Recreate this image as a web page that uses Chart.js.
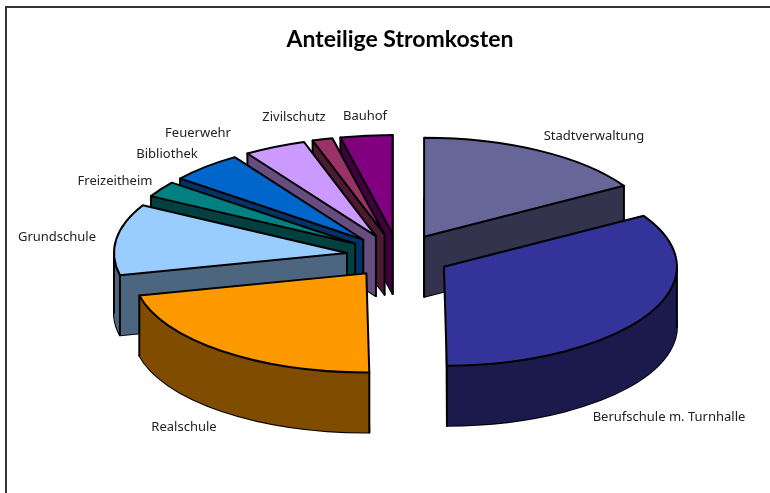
<!DOCTYPE html>
<html>
<head>
<meta charset="utf-8">
<style>html,body{margin:0;padding:0;background:#fff}#w{width:770px;height:493px;position:relative}</style>
<script src="https://cdn.jsdelivr.net/npm/chart.js@4"></script>
</head>
<body>
<div id="w"><canvas id="c" width="770" height="493"></canvas></div>
<script>
const chartTitle = 'Anteilige Stromkosten';
const categories = ['Stadtverwaltung','Berufschule m. Turnhalle','Realschule','Grundschule','Freizeitheim','Bibliothek','Feuerwehr','Zivilschutz','Bauhof'];
const shares = [16.4,33.4,21.6,11.6,2.6,5.1,4.3,1.4,3.6];
const topColors = ['#666699','#333399','#FF9900','#99CCFF','#008080','#0066CC','#CC99FF','#993366','#800080'];
const wallColors = ['#33334D','#1A1A4D','#804D00','#4D6680','#004040','#003366','#664D80','#4D1A33','#400040'];
const labelAnchors = [[594,136],[669,417],[184,427],[57,237],[115,181],[167,154],[198,133],[294,117],[365,116]];

const pieCenter = {x:398.5, y:256}, pieRadius = 233, tilt = 0.425, depth = 60, explode = 52;

const pie3d = {
  id:'pie3d',
  beforeDraw(chart){
    const c = chart.ctx;
    c.save();
    c.strokeStyle = '#333'; c.lineWidth = 2;
    c.beginPath(); c.moveTo(6,493); c.lineTo(6,7); c.lineTo(770,7); c.stroke();
    c.restore();
  },
  beforeDatasetsDraw(chart){
    const c = chart.ctx, arcs = chart.getDatasetMeta(0).data;
    const k = pieRadius/arcs[0].outerRadius;
    const apex = a => {
      const m = (a.startAngle+a.endAngle)/2;
      return {x:pieCenter.x+Math.cos(m)*explode, y:pieCenter.y+Math.sin(m)*explode*tilt};
    };
    const enter = (a,dy) => {
      const p = apex(a);
      c.translate(p.x,p.y+dy); c.scale(k,k*tilt); c.translate(-a.x,-a.y);
    };
    const wedge = (a,dy) => {
      c.save(); enter(a,dy);
      c.beginPath(); c.moveTo(a.x,a.y);
      c.arc(a.x,a.y,a.outerRadius,a.startAngle,a.endAngle);
      c.closePath(); c.restore();
    };
    const pt = (a,ang) => {
      const p = apex(a);
      return {x:p.x+Math.cos(ang)*pieRadius, y:p.y+Math.sin(ang)*pieRadius*tilt};
    };
    const quad = (p,q) => {
      c.beginPath(); c.moveTo(p.x,p.y); c.lineTo(q.x,q.y);
      c.lineTo(q.x,q.y+depth); c.lineTo(p.x,p.y+depth); c.closePath(); c.fill();
    };
    const band = (a,s,e) => {
      c.beginPath();
      c.save(); enter(a,0); c.arc(a.x,a.y,a.outerRadius,s,e); c.restore();
      c.save(); enter(a,depth); c.arc(a.x,a.y,a.outerRadius,e,s,true); c.restore();
      c.closePath(); c.fill();
    };
    const order = arcs.map((a,i)=>i).sort((i,j)=>apex(arcs[i]).y-apex(arcs[j]).y);
    c.save();
    c.lineJoin='round'; c.lineCap='round'; c.lineWidth=2; c.strokeStyle='#000';
    order.forEach(i=>{
      const a = arcs[i], s=a.startAngle, e=a.endAngle;
      const p0=apex(a), ps=pt(a,s), pe=pt(a,e);
      c.save();
      if(Math.abs(Math.cos(e))<0.1 && Math.sin(e)>0){
        c.beginPath(); c.rect(pe.x-1,0,chart.width,chart.height); c.clip();
      }
      c.fillStyle=wallColors[i];
      wedge(a,depth); c.fill(); c.stroke();
      quad(p0,ps); quad(p0,pe);
      const cuts=[0,Math.PI,2*Math.PI].filter(t=>t>s&&t<e);
      const stops=[s,...cuts,e];
      for(let n=0;n<stops.length-1;n++) band(a,stops[n],stops[n+1]);
      const verts=cuts.map(t=>pt(a,t));
      if(Math.cos(s)<-0.1||Math.cos(e)>0.1) verts.push(p0);
      if(Math.sin(s)>0||Math.cos(s)<0) verts.push(ps);
      if(Math.sin(e)>0||Math.cos(e)>0) verts.push(pe);
      verts.forEach(v=>{ c.beginPath(); c.moveTo(v.x,v.y); c.lineTo(v.x,v.y+depth); c.stroke(); });
      c.restore();
      c.save(); enter(a,0); a.draw(c); c.restore();
      wedge(a,0); c.stroke();
    });
    c.font='13px "Noto Sans"'; c.fillStyle='#222'; c.textAlign='center'; c.textBaseline='middle';
    categories.forEach((t,i)=>c.fillText(t,labelAnchors[i][0],labelAnchors[i][1]));
    c.restore();
    return false;
  }
};

new Chart(document.getElementById('c'),{
  type:'pie',
  data:{labels:categories,datasets:[{data:shares,backgroundColor:topColors,borderWidth:0}]},
  options:{
    responsive:false,animation:false,events:[],
    layout:{padding:{top:26,left:30}},
    plugins:{
      legend:{display:false},tooltip:{enabled:false},
      title:{display:true,text:chartTitle,color:'#000',font:{family:'Lato',size:23,weight:'bold'},padding:0}
    }
  },
  plugins:[pie3d]
});
</script>
</body>
</html>
